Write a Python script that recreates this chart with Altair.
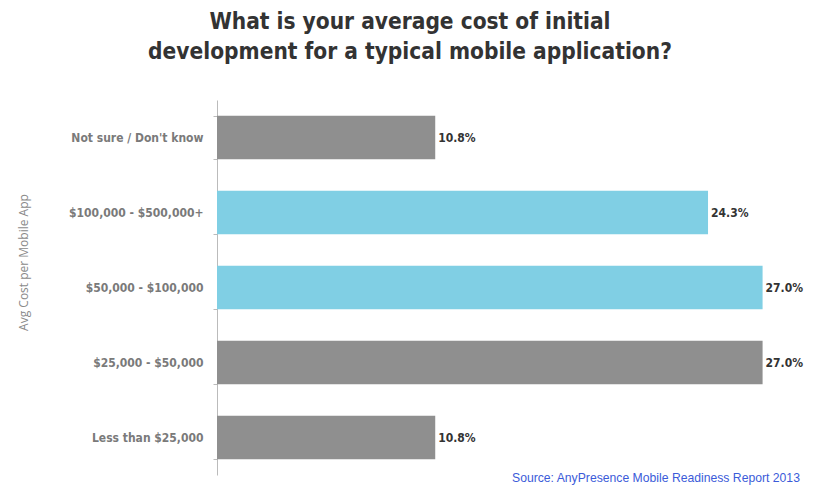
import altair as alt
import pandas as pd

categories = ["Not sure / Don't know", "$100,000 - $500,000+", "$50,000 - $100,000",
              "$25,000 - $50,000", "Less than $25,000"]
values = [10.8, 24.3, 27.0, 27.0, 10.8]
highlight = [False, True, True, False, False]
labels = ["10.8%", "24.3%", "27.0%", "27.0%", "10.8%"]

df = pd.DataFrame({"cat": categories, "val": values, "hl": highlight, "lab": labels})

COND = "DejaVu Sans Condensed, Roboto Condensed, Liberation Sans Narrow, sans-serif"

y_enc = alt.Y("cat:N", sort=categories,
              scale=alt.Scale(paddingInner=0.42, paddingOuter=0.21),
              axis=alt.Axis(title="Avg Cost per Mobile App", titleFont="Open Sans",
                            titleFontSize=12, titleFontWeight="normal", titleColor="#8a8a8a",
                            titleAngle=-90, titleX=-194, titleY=162, titleAlign="center",
                            titleBaseline="middle",
                            labelFont=COND, labelFontSize=12,
                            labelFontWeight="bold", labelColor="#7a7a7a", labelPadding=10,
                            tickBand="extent", tickSize=4, tickColor="#bbbbbb",
                            domainColor="#bbbbbb", grid=False))
x_enc = alt.X("val:Q", scale=alt.Scale(domain=[0, 29], nice=False), axis=None)

bars = alt.Chart(df).mark_bar().encode(
    y=y_enc, x=x_enc,
    color=alt.Color("hl:N", scale=alt.Scale(domain=[False, True], range=["#8f8f8f", "#80cfe4"]),
                    legend=None))

text = alt.Chart(df).mark_text(align="left", baseline="middle", dx=3,
                               font=COND, fontSize=12,
                               fontWeight="bold", color="#333333").encode(
    y=alt.Y("cat:N", sort=categories), x=x_enc, text="lab:N")

src = alt.Chart(pd.DataFrame({"t": ["Source: AnyPresence Mobile Readiness Report 2013"]})).mark_text(
    align="left", baseline="middle", font="Liberation Sans", fontSize=12.2, color="#3b5bd9").encode(
    x=alt.value(295), y=alt.value(378), text="t:N")

chart = (bars + text + src).properties(
    width=586, height=375,
    background="white",
    title=alt.TitleParams(
        text=["What is your average cost of initial", "development for a typical mobile application?"],
        font=COND, fontSize=22.5, fontWeight="bold", color="#333333",
        anchor="middle", dx=-100, offset=31, lineHeight=30),
    autosize=alt.AutoSizeParams(type="none"),
    padding={"left": 217, "top": 100, "right": 11, "bottom": 11},
).configure_view(stroke=None).configure_axis(grid=False)

chart.save("out.html", embed_options={"renderer": "svg", "actions": False})
